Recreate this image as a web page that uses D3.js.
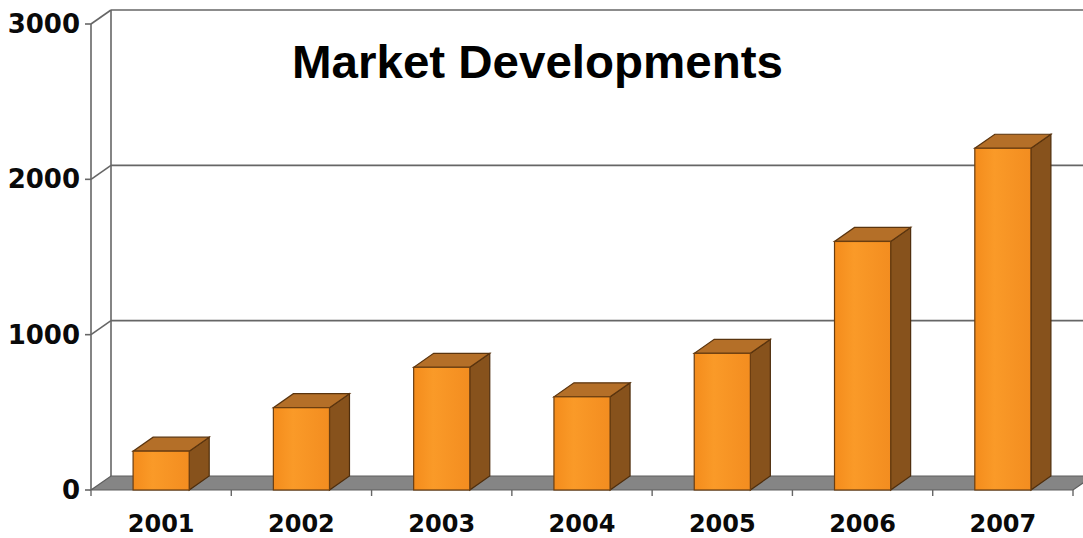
<!DOCTYPE html>
<html>
<head>
<meta charset="utf-8">
<script src="https://cdn.jsdelivr.net/npm/d3@7"></script>
<style>
  html, body { margin: 0; padding: 0; background: #fff; }
  svg { display: block; }
</style>
</head>
<body>
<svg id="chart" width="1083" height="538"></svg>
<script>
// Yearly market figures
const years = ["2001", "2002", "2003", "2004", "2005", "2006", "2007"];
const values = [250, 530, 790, 600, 880, 1600, 2200];
const yTicks = [0, 1000, 2000, 3000];
const chartTitle = "Market Developments";

const W = 1083, H = 538;
const svg = d3.select("#chart");

// Pseudo-3D depth offset of the back wall
const DX = 20, DY = -14;

const x = d3.scaleBand()
  .domain(years)
  .range([91, 1073])
  .paddingInner(0.6)
  .paddingOuter(0.3);

const y = d3.scaleLinear().domain([0, 3000]).range([490, 24]);

const x0 = 91, x1 = 1073;

// Back wall gridlines + left wall diagonals
const grid = svg.append("g").attr("stroke", "#666").attr("stroke-width", 1.6).attr("fill", "none");
yTicks.filter(t => t > 0).forEach(t => {
  grid.append("line")
    .attr("x1", x0 + DX).attr("x2", W + 5)
    .attr("y1", y(t) + DY).attr("y2", y(t) + DY);
  grid.append("line")
    .attr("x1", x0).attr("y1", y(t))
    .attr("x2", x0 + DX).attr("y2", y(t) + DY);
});
// left wall verticals
grid.append("line")
  .attr("x1", x0 + DX).attr("x2", x0 + DX)
  .attr("y1", y(3000) + DY).attr("y2", y(0) + DY);
grid.append("line")
  .attr("x1", x0).attr("x2", x0)
  .attr("y1", y(3000)).attr("y2", y(0));

// Floor
svg.append("path")
  .attr("d", `M${x0},${y(0)} L${x1},${y(0)} L${x1 + DX},${y(0) + DY} L${x0 + DX},${y(0) + DY} Z`)
  .attr("fill", "#858585")
  .attr("stroke", "#5e5e5e")
  .attr("stroke-width", 1.2);

// Y axis ticks and labels
const yAxis = svg.append("g");
yTicks.forEach(t => {
  yAxis.append("line")
    .attr("x1", x0 - 6).attr("x2", x0)
    .attr("y1", y(t)).attr("y2", y(t))
    .attr("stroke", "#666").attr("stroke-width", 1.6);
  yAxis.append("text")
    .attr("x", 80).attr("y", y(t))
    .attr("text-anchor", "end")
    .attr("dominant-baseline", "central")
    .attr("font-family", "DejaVu Sans")
    .attr("font-weight", "bold")
    .attr("font-size", 26)
    .attr("fill", "#0a0a0a")
    .text(d3.format("d")(t));
});

// Category boundary ticks under the floor
const step = x.step();
d3.range(years.length + 1).forEach(i => {
  const bx = x0 + i * step;
  svg.append("line")
    .attr("x1", bx).attr("x2", bx)
    .attr("y1", y(0)).attr("y2", y(0) + 6)
    .attr("stroke", "#666").attr("stroke-width", 1.4);
});

// Gradient for bar fronts
const defs = svg.append("defs");
const g1 = defs.append("linearGradient").attr("id", "front").attr("x1", 0).attr("x2", 1).attr("y1", 0).attr("y2", 0);
g1.append("stop").attr("offset", "0%").attr("stop-color", "#f48c1c");
g1.append("stop").attr("offset", "35%").attr("stop-color", "#fa9a28");
g1.append("stop").attr("offset", "100%").attr("stop-color", "#f38d20");

// Bars
const bars = svg.append("g").selectAll("g.bar")
  .data(years.map((yr, i) => ({ yr, v: values[i] })))
  .join("g").attr("class", "bar");

const bw = x.bandwidth();
bars.each(function(d) {
  const g = d3.select(this);
  const L = x(d.yr), R = L + bw, T = y(d.v), B = y(0);
  // side face
  g.append("path")
    .attr("d", `M${R},${B} L${R},${T} L${R + DX},${T + DY} L${R + DX},${B + DY} Z`)
    .attr("fill", "#87521c").attr("stroke", "#4e2d0c").attr("stroke-width", 1.2);
  // top face
  g.append("path")
    .attr("d", `M${L},${T} L${R},${T} L${R + DX},${T + DY} L${L + DX},${T + DY} Z`)
    .attr("fill", "#b46f28").attr("stroke", "#5a340e").attr("stroke-width", 1.2);
  // front face
  g.append("rect")
    .attr("x", L).attr("y", T).attr("width", bw).attr("height", B - T)
    .attr("fill", "url(#front)").attr("stroke", "#6a3d10").attr("stroke-width", 1.2);
});

// Category labels
svg.append("g").selectAll("text")
  .data(years)
  .join("text")
  .attr("x", d => x(d) + bw / 2)
  .attr("y", 524)
  .attr("text-anchor", "middle")
  .attr("dominant-baseline", "central")
  .attr("font-family", "DejaVu Sans")
  .attr("font-weight", "bold")
  .attr("font-size", 24)
  .attr("fill", "#0a0a0a")
  .text(d => d);

// Title
svg.append("text")
  .attr("x", 292).attr("y", 78)
  .attr("font-family", "Liberation Sans, Arial, sans-serif")
  .attr("font-weight", "bold")
  .attr("font-size", 47)
  .attr("textLength", 491)
  .attr("lengthAdjust", "spacingAndGlyphs")
  .attr("fill", "#000")
  .text(chartTitle);
</script>
</body>
</html>
